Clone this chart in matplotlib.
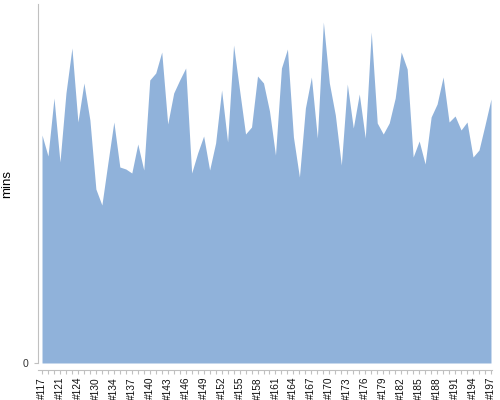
import matplotlib
matplotlib.use("Agg")
import matplotlib.pyplot as plt
import numpy as np

plt.rcParams['font.family'] = ['Liberation Sans', 'DejaVu Sans']

builds = (["#117", "#119", "#120", "#121", "#122", "#123", "#124", "#126",
           "#128", "#130", "#132", "#133"]
          + ["#%d" % n for n in range(134, 198)])

mins = [228, 207, 265, 201, 270, 315, 241, 280, 243, 174,
        158, 200, 241, 196, 194, 190, 219, 193, 283, 290,
        311, 239, 270, 283, 295, 190, 210, 227, 193, 220,
        273, 221, 318, 273, 229, 236, 287, 280, 252, 208,
        295, 314, 226, 186, 255, 286, 225, 341, 280, 248,
        198, 279, 235, 269, 225, 331, 240, 229, 240, 265,
        311, 294, 206, 222, 199, 246, 259, 286, 241, 247,
        233, 241, 206, 213, 238, 264]

labels = [b if i % 3 == 0 else "" for i, b in enumerate(builds)]

fig = plt.figure(figsize=(5, 4), dpi=100)
ax = fig.add_axes([0.076, 0.0925, 0.908, 0.8975])
x = np.arange(len(builds))
ax.fill_between(x, 0, mins, color='#90b2da', linewidth=0)
ax.set_xlim(-0.67, len(builds) - 1 + 0.17)
ax.set_ylim(0, 359)

for s in ['top', 'right']:
    ax.spines[s].set_visible(False)
ax.spines['left'].set_color('#c0c0c0')
ax.spines['bottom'].set_color('#c0c0c0')
ax.spines['bottom'].set_position(('outward', 5))
ax.tick_params(axis='x', length=3, width=0.8, color='#c0c0c0', pad=2,
               labelrotation=90, labelsize=7.3, labelcolor='#111111')
ax.tick_params(axis='y', length=3, width=0.8, color='#c0c0c0', pad=4,
               labelsize=7.6, labelcolor='#333333')

ax.set_xticks(x)
ax.set_xticklabels(labels)
ax.set_yticks([0])
ax.set_yticklabels(["0"])
ax.set_ylabel("mins", fontsize=9.5)
ax.yaxis.set_label_coords(-0.055, 0.5)

fig.savefig("out.png", dpi=100)
